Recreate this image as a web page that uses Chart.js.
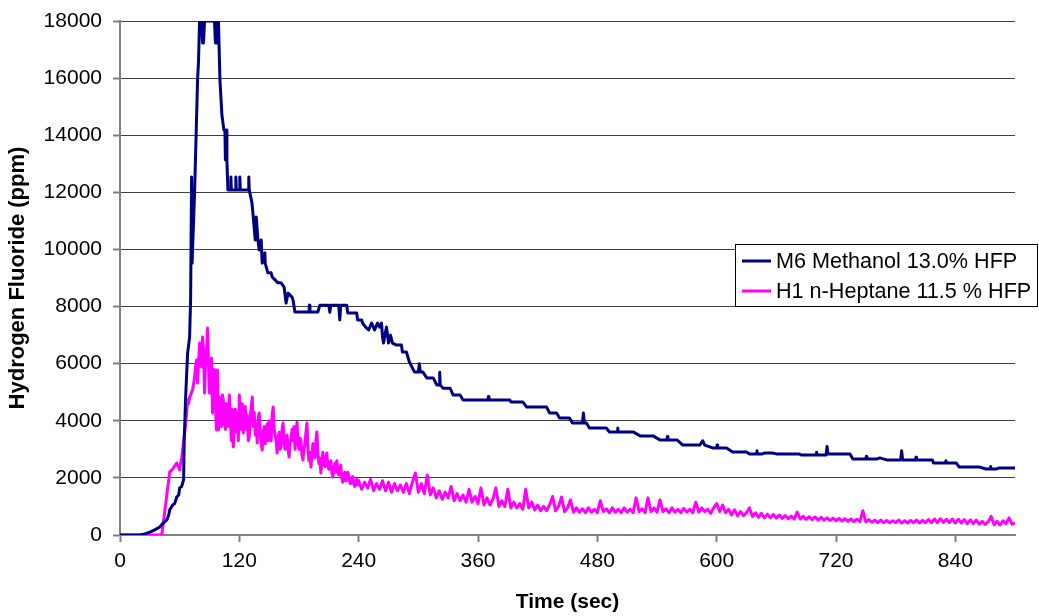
<!DOCTYPE html>
<html>
<head>
<meta charset="utf-8">
<script src="https://cdn.jsdelivr.net/npm/chart.js@4/dist/chart.umd.min.js"></script>
<style>
html,body{margin:0;padding:0;background:#fff;}
canvas{display:block;}
</style>
</head>
<body>
<canvas id="c" width="1039" height="616"></canvas>
<script>
// ---- data ----
const xTicks = [0, 120, 240, 360, 480, 600, 720, 840];
const yTicks = [0, 2000, 4000, 6000, 8000, 10000, 12000, 14000, 16000, 18000];

const methLabel = "M6 Methanol 13.0% HFP";
const heptLabel = "H1 n-Heptane 11.5 % HFP";

// Methanol: time (s) / HF (ppm)
const methT = [0,20,25,30,35,40,43,47,49,50,53,55,57,59,60,62,63,64,64.5,66,68,70,71,72,72.5,73,75,78,79,80,82,83,84,85,95,96,97,98,99,100.5,102.5,104.5,105.5,106,107,107.5,108.5,111,111.5,112,116,116.5,117,120,120.5,121,129,129.5,130,132.7,134,136,137,138.7,140,142,143,145.7,146,148.7,152,153,158.8,162,165,167,169,172.9,174,175.9,190,190.5,191,199,201,210,211,212,220,221,222,228,229,238,239,243,244,247,250,253,256,259,261,263,264,265,266,268,270,272,274,278,283,284,288,291,296,300,301,302,304.5,308.5,315,318.6,321,321.5,322,325,332,335,342,345,370,370.5,371,392,393,405,409,429,432,439,442,452,455,465,466,467,469,472,489,492,500,500.5,501,516,523,536,543,550,550.5,551,560,566,583,586,588,596,600,600.5,601,610,616,630,633,640,640.5,641,646,648,656,660,683,685,700,700.5,701,710,711,712,734,737,750,750.5,751,761,764,771,785,786,787,800,800.5,801,817,818,830,830.5,831,841,844,864,871,875,875.5,876,881,884,900];
const methV = [0,0,40,100,180,280,400,530,700,880,1050,1100,1330,1400,1650,1700,1820,1950,3220,4830,6370,6930,8230,12540,9520,9520,12000,15930,16640,18000,18000,17230,17230,18000,18000,17230,17230,18000,18000,15930,14700,14180,14180,13130,14180,13130,12080,12080,12540,12080,12080,12540,12080,12080,12540,12080,12080,12540,12080,11630,11140,10330,11140,10330,9980,10330,9520,9880,9520,9180,9180,9040,8830,8830,8680,8120,8470,8330,8230,7810,7810,8050,7810,7810,8050,8050,7800,8050,8050,7530,8050,8050,7770,7770,7530,7530,7420,7280,7180,7420,7180,7420,7280,7420,6930,6720,6930,7280,6720,7000,6720,6650,6650,6410,6410,6060,5710,5710,6000,5710,5710,5500,5500,5250,5250,5700,5250,5140,5140,4900,4900,4730,4730,4850,4730,4730,4660,4660,4480,4480,4270,4270,4100,4100,3920,3920,4270,3920,3920,3750,3750,3610,3610,3750,3610,3610,3470,3470,3330,3330,3450,3330,3330,3150,3150,3300,3150,3050,3050,3150,3050,3050,2910,2910,2840,2840,2950,2840,2840,2870,2870,2840,2840,2800,2800,2900,2800,2800,3100,2840,2840,2660,2660,2760,2660,2660,2700,2630,2630,2950,2630,2630,2720,2630,2630,2520,2520,2600,2520,2520,2380,2380,2310,2310,2400,2310,2310,2350,2350];

// n-Heptane, rise: time (s) / HF (ppm)
const heptRiseT = [0, 42, 50, 53, 57];
const heptRiseV = [0, 0, 2210, 2310, 2520];
// n-Heptane, every 1 s from 60 s to 239 s
const heptA_start = 60, heptA_step = 1;
const heptA = [2280,2500,2700,2980,3300,3570,3900,4300,4730,4600,4830,4900,5000,5080,5300,5530,5900,6130,5320,6000,6720,6100,5880,6930,6500,4970,6000,6370,7250,6000,4970,5600,6200,4270,5000,5800,4500,3680,5780,3680,4830,4200,3800,4900,4700,3900,3700,4600,4500,3800,4900,4100,3300,4400,3080,4000,4400,3600,4270,3300,4900,3900,3700,4600,3570,4200,4500,3700,4200,3300,3430,4100,4500,4830,3800,4300,3500,3900,3220,4100,4270,3600,3200,2980,3600,3800,3200,3400,3900,3300,4000,3500,3300,4200,4480,3700,3500,3300,2870,3400,3600,3000,3100,3700,3920,3300,3000,3400,3500,3000,2730,3200,3400,3700,3300,3800,3000,3500,3950,3200,3000,3400,3300,2800,2630,3000,3200,3600,3920,3000,2600,2900,2380,2800,3200,2900,2700,3300,3610,2800,2500,2700,2170,2600,2900,2500,2400,2700,2870,2400,2300,2500,2600,2200,2030,2300,2500,2200,2600,2300,2100,2300,2450,2000,1850,2100,2200,1900,1930,2200,2100,1850,1800,2000,2050,1800,1700,1900,1950,1750];
// n-Heptane, every 3 s from 240 s to 900 s
const heptB_start = 240, heptB_step = 3;
const heptB = [1900,1600,1850,1650,1950,1550,1800,1600,1900,1550,1850,1500,1800,1550,1750,1500,1800,1450,1850,2170,1500,1800,1450,2100,1400,1650,1300,1550,1250,1500,1300,1700,1200,1450,1200,1400,1150,1600,1150,1350,1100,1650,1050,1300,1050,1250,1650,1000,1200,1000,1600,950,1150,950,1100,900,1600,950,1150,880,1050,850,1000,850,1050,1350,850,1000,1330,820,950,1230,800,950,800,920,780,950,800,900,780,1200,820,920,780,950,800,900,780,950,800,900,780,1300,820,920,780,1300,820,950,800,1230,820,920,780,950,800,900,780,930,800,900,780,1150,800,950,820,900,760,950,1100,820,1050,780,900,700,880,680,820,680,780,950,650,780,620,760,600,730,600,720,590,700,580,680,570,660,560,800,560,650,550,640,540,630,520,620,520,600,510,590,500,580,490,570,480,560,470,550,470,850,460,540,450,520,440,520,430,510,430,500,440,520,420,500,420,510,430,520,420,510,430,540,430,560,430,570,440,550,430,560,420,550,420,540,400,530,400,520,380,480,370,460,650,360,480,350,500,400,600,380,420];

const heptPts = heptRiseT.map((t, i) => ({x: t, y: heptRiseV[i]}))
  .concat(heptA.map((v, i) => ({x: heptA_start + i * heptA_step, y: v})))
  .concat(heptB.map((v, i) => ({x: heptB_start + i * heptB_step, y: v})));
const methPts = methT.map((t, i) => ({x: t, y: methV[i]}));

const FONT = '"Liberation Sans", Arial, sans-serif';

const legendBox = {
  id: 'legendBox',
  afterDatasetsDraw(chart) {
    const ctx = chart.ctx;
    ctx.save();
    ctx.fillStyle = '#fff';
    ctx.fillRect(735.5, 244.5, 302, 62);
    ctx.strokeStyle = '#000';
    ctx.lineWidth = 1;
    ctx.strokeRect(735.5, 244.5, 302, 62);
    chart.data.datasets.forEach((ds, i) => {
      const ly = 261 + i * 30;
      ctx.strokeStyle = ds.borderColor;
      ctx.lineWidth = 3;
      ctx.beginPath();
      ctx.moveTo(742, ly);
      ctx.lineTo(771, ly);
      ctx.stroke();
      ctx.fillStyle = '#000';
      ctx.font = '21.6px ' + FONT;
      ctx.textBaseline = 'alphabetic';
      ctx.textAlign = 'left';
      ctx.fillText(ds.label, 776, ly + 7);
    });
    ctx.restore();
  }
};

new Chart(document.getElementById('c'), {
  type: 'line',
  data: {
    datasets: [
      {label: methLabel, data: methPts, borderColor: '#000080', borderWidth: 3, borderJoinStyle: 'round', pointRadius: 0, tension: 0, fill: false},
      {label: heptLabel, data: heptPts, borderColor: '#FF00FF', borderWidth: 3, borderJoinStyle: 'round', pointRadius: 0, tension: 0, fill: false}
    ]
  },
  options: {
    responsive: false,
    animation: false,
    layout: {padding: {left: 0, right: 24, top: 21, bottom: 0}},
    plugins: {legend: {display: false}, tooltip: {enabled: false}},
    scales: {
      x: {
        type: 'linear',
        min: 0, max: 900,
        afterBuildTicks: s => { s.ticks = xTicks.map(v => ({value: v})); },
        afterFit: s => { s.height = 81; },
        ticks: {color: '#000', font: {family: FONT, size: 21}, padding: 7, maxRotation: 0, callback: v => String(v)},
        grid: {drawOnChartArea: false, drawTicks: true, tickLength: 7, tickColor: '#808080', tickWidth: 2},
        border: {color: '#808080', width: 2},
        title: {display: true, text: 'Time (sec)', color: '#000', font: {family: FONT, size: 21, weight: 'bold'}, padding: {top: 0, bottom: 1}}
      },
      y: {
        min: 0, max: 18000,
        afterBuildTicks: s => { s.ticks = yTicks.map(v => ({value: v})); },
        afterFit: s => { s.width = 120; s.paddingTop = 0; s.paddingBottom = 0; },
        ticks: {color: '#000', font: {family: FONT, size: 21}, padding: 11, callback: v => String(v)},
        grid: {color: '#404040', lineWidth: 1, drawTicks: true, tickLength: 7, tickColor: '#808080', tickWidth: 2},
        border: {color: '#808080', width: 2},
        title: {display: true, text: 'Hydrogen Fluoride (ppm)', color: '#000', font: {family: FONT, size: 22, weight: 'bold'}, padding: {top: 5, bottom: 0}}
      }
    }
  },
  plugins: [legendBox]
});
</script>
</body>
</html>
